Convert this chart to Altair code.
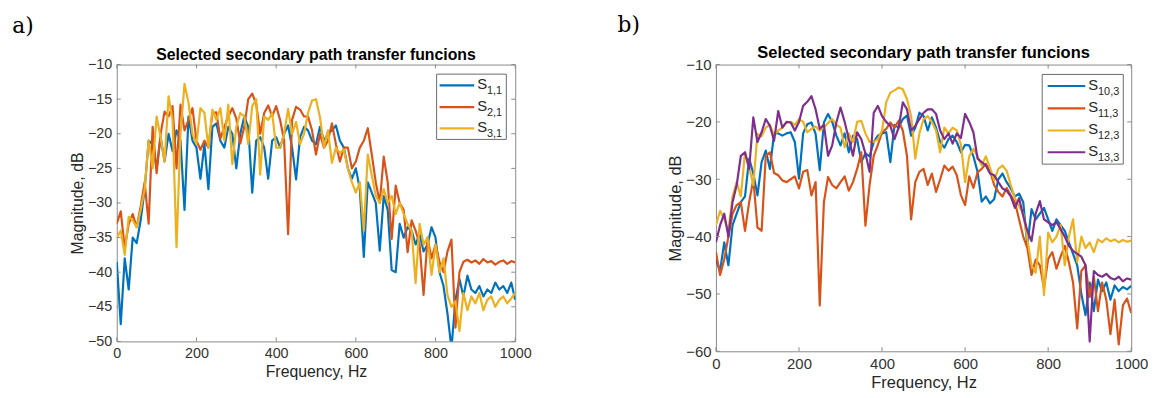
import altair as alt
import pandas as pd

freq = list(range(0, 1001, 10))

# ---- panel a) ----
a_names = ["1,1", "2,1", "3,1"]
a_s11 = [-38.5, -47.5, -38, -42.5, -35, -35.8, -32.5, -28, -21, -21.5,
         -25, -20.5, -24, -20, -22.5, -19.5, -21, -31, -17.5, -21,
         -22, -26.5, -21.5, -28, -19, -18.5, -21, -22, -19, -20,
         -25, -20, -17.5, -19, -28.5, -21, -20.5, -22, -26.5, -21,
         -20.5, -22, -20, -18.8, -22, -26.6, -20.5, -19, -19.5, -21,
         -21.5, -19, -21, -20, -19.5, -18.8, -21, -22, -25, -26.5,
         -25, -28, -37.8, -27, -28.5, -30, -36.9, -29, -31, -39.7,
         -40, -33, -35, -33.5, -34, -36, -34.5, -37, -36, -33.5,
         -35, -40, -42, -46, -51, -44, -41, -43.5, -40.5, -42.5,
         -43, -42, -43.5, -42.5, -43, -41.5, -42.5, -42, -43, -41.5,
         -44]
a_s21 = [-33, -31.2, -36.5, -33, -31.6, -33.5, -30.5, -27, -33, -19,
         -25.7, -20, -16.8, -17.5, -16, -25, -15.8, -19.5, -18, -16.3,
         -21, -22.3, -21, -22, -17, -16.9, -20.7, -19, -17.5, -16.3,
         -17.8, -21.4, -19, -15, -14.2, -15.7, -20, -17, -15.9, -17.5,
         -16, -18, -21, -34.5, -18, -16.1, -16.5, -17.5, -17.5, -19.5,
         -23, -20, -22, -21, -18.5, -21.5, -24, -22, -22, -25,
         -24, -22, -21, -19.2, -23, -27, -30, -23.3, -27, -35.2,
         -27.5, -30, -31, -37.1, -32.5, -34, -36, -43.3, -35, -38,
         -36, -38.5, -40, -37, -35.3, -48, -40, -38.5, -38.2, -38.6,
         -38.3, -38.8, -38.1, -38.6, -38.4, -38.9, -38.5, -38.3, -38.8, -38.4,
         -38.6]
a_s31 = [-35, -34, -37.5, -32, -32.5, -33.5, -31, -28, -21, -25,
         -17.5, -20.5, -24, -14.6, -18, -36.4, -20, -12.8, -15.5, -20,
         -21.5, -16.3, -17, -22, -16.5, -18, -16.3, -21, -15.8, -24.4,
         -19, -17, -17.5, -21.5, -16, -15, -25.9, -17.5, -18, -17,
         -22, -22, -20, -16.4, -20, -18.3, -21.5, -20, -17, -15.2,
         -15, -17.6, -21.9, -19.5, -24.2, -22, -22.8, -22.3, -25, -27,
         -28.5, -27, -34, -23, -26, -29, -30, -28, -30, -29,
         -31.6, -30, -31.6, -33, -34, -41.6, -33, -36, -35, -40.4,
         -36, -40, -38, -43.3, -45, -44.2, -48.5, -43, -45.5, -43.5,
         -44.5, -43, -45.5, -44, -43.5, -45, -44, -43.5, -44.5, -43.8,
         -43]

# ---- panel b) ----
b_names = ["10,3", "11,3", "12,3", "13,3"]
b_s103 = [-44, -46, -41, -45, -38, -36, -34, -33, -26.4, -29,
          -32.8, -27, -25, -28.2, -22, -22, -22.4, -22, -21.8, -23.5,
          -29.9, -22, -20.4, -20.1, -22.1, -28.4, -20.1, -18.6, -20, -22.4,
          -24.1, -22, -25.3, -22.4, -23, -27, -25.5, -26, -23.5, -22.4,
          -22, -21.8, -27, -20.5, -21, -19.5, -18.9, -22.4, -21, -18.4,
          -19, -21.5, -19.2, -21, -23.5, -24.5, -23, -22.4, -23.5, -25.3,
          -24, -24.1, -26, -28.7, -33.9, -33, -34.2, -33.5, -30, -29,
          -30.5, -31.6, -33, -32.5, -34, -41.6, -35.2, -37, -36, -35,
          -37, -39, -37, -38, -39, -41, -43, -45, -50, -53.7,
          -48, -53, -47.5, -49.5, -48, -51, -48.5, -49.5, -48.8, -49.2,
          -48.6]
b_s113 = [-42.7, -46.7, -44, -40, -36, -34.5, -34, -39, -34, -30,
          -38.4, -39, -25.9, -25.3, -28.9, -29.3, -30.2, -30.5, -30, -29.5,
          -31.6, -28.7, -28.4, -32.8, -30.5, -52, -34, -29.6, -31, -31.6,
          -30.5, -29.5, -32, -30.5, -28.2, -25.3, -38.1, -31, -25.9, -24,
          -21.8, -21.2, -20.1, -21, -19.8, -21.5, -25.9, -37, -30.5, -28.7,
          -28.2, -31, -29, -32.2, -30, -27.6, -28.5, -27.8, -29.3, -32.8,
          -34.5, -29.5, -31.5, -28.8, -28.2, -27.3, -28.5, -31, -32.2, -33,
          -31.5, -32.8, -34, -37, -40, -42, -46.7, -44, -45, -49,
          -43.9, -42.7, -45.6, -43.5, -41.6, -44.5, -48, -56, -46, -45,
          -50.5, -47, -53, -48, -51, -57, -51, -58.8, -52, -50.8,
          -53.3]
b_s123 = [-38, -35.5, -37, -39, -33, -30.5, -33, -25.3, -28, -31,
          -22.1, -22.5, -21, -20.5, -22.4, -21.5, -21, -20.1, -20, -20.5,
          -19.5, -20, -21.8, -21.2, -20.8, -21.5, -21, -20.2, -19.5, -20.5,
          -21, -24.4, -22, -23.5, -20, -19.8, -22, -23.5, -23.5, -23,
          -21.5, -16.6, -14.9, -14.5, -14, -14.3, -16, -19, -26.4, -22,
          -19.5, -19, -20, -21.5, -25.3, -21, -22, -21, -21.5, -24,
          -30.5, -26, -24.7, -26, -27.6, -26, -28, -30.2, -28.2, -27.6,
          -28.5, -31, -33.3, -34.7, -36, -40.4, -45, -46.3, -40, -50.2,
          -39.3, -41, -40, -38, -45, -40, -37, -44.4, -40, -42,
          -41, -42.7, -40.5, -41, -40.3, -40.8, -40.5, -41, -40.6, -40.9,
          -40.7]
b_s133 = [-41, -38, -36, -40, -34, -31, -25.9, -25.3, -28.2, -19.2,
          -23.5, -21.8, -19.5, -20.7, -23.3, -18.1, -21, -20, -20.1, -21.5,
          -20, -17.2, -16.5, -15.5, -17.8, -21.2, -20.5, -25.9, -24.1, -20.1,
          -17.5, -20, -23, -25.9, -21.8, -23, -25.5, -28.7, -18.4, -17.2,
          -19, -20, -20.7, -23, -21, -16.6, -17.8, -21.5, -20.7, -19.5,
          -18.4, -17.8, -17.8, -18.6, -21.5, -23, -22, -23.8, -22, -22.8,
          -18.6, -20, -21.8, -26.4, -27, -27.6, -29, -29.3, -30.5, -31.6,
          -32, -33, -35, -33.3, -36.4, -39, -40.8, -36, -33.8, -37,
          -37.5, -38, -37.5, -38.7, -40, -41.6, -42.5, -43, -43.5, -45,
          -58.3, -46, -46.7, -47, -46.5, -47.2, -47.5, -47, -47.8, -47.3,
          -47.5]

for s in (a_s11, a_s21, a_s31, b_s103, b_s113, b_s123, b_s133):
    assert len(s) == len(freq), len(s)

x_ticks = [0, 200, 400, 600, 800, 1000]
a_yticks = [-50, -45, -40, -35, -30, -25, -20, -15, -10]
b_yticks = [-60, -50, -40, -30, -20, -10]

title_text = "Selected secondary path transfer funcions"
colors = ["#0072BD", "#D95319", "#EDB120", "#7E2F8E"]
AX = "#8a8a8a"
TXT = "#262626"
FONT = "Liberation Sans"


def panel(names, series, ydom, yticks, w, h, letter, letter_x, letter_y,
          title_y, leg, k):
    xscale = alt.Scale(domain=[0, 1000], nice=False, zero=False)
    yscale = alt.Scale(domain=ydom, nice=False, zero=False)
    xaxis = alt.Axis(values=x_ticks, title="Frequency, Hz", ticks=False,
                     grid=False, domain=False, labelPadding=5, titlePadding=4,
                     format="d", labelFlush=False,
                     labelFontSize=14.5 * k, titleFontSize=16 * k)
    yaxis = alt.Axis(values=yticks, title="Magnitude, dB", ticks=False,
                     grid=False, domain=False, labelPadding=5, titlePadding=2,
                     format="d", labelFontSize=14.5 * k, titleFontSize=16 * k)
    layers = []
    for vals, col in zip(series, colors):
        df = pd.DataFrame({"f": freq, "v": vals})
        layers.append(
            alt.Chart(df).mark_line(color=col, strokeWidth=2.2, clip=True,
                                    strokeJoin="round").encode(
                x=alt.X("f:Q", scale=xscale, axis=xaxis),
                y=alt.Y("v:Q", scale=yscale, axis=yaxis),
                order="f:Q"))
    xt = pd.DataFrame({"f": x_ticks})
    yt = pd.DataFrame({"v": yticks})
    for y0, y1 in ((h, h - 4), (0, 4)):
        layers.append(alt.Chart(xt).mark_rule(color=AX, strokeWidth=1).encode(
            x=alt.X("f:Q", scale=xscale, axis=xaxis),
            y=alt.value(y0), y2=alt.value(y1)))
    for x0, x1 in ((0, 4), (w, w - 4)):
        layers.append(alt.Chart(yt).mark_rule(color=AX, strokeWidth=1).encode(
            y=alt.Y("v:Q", scale=yscale, axis=yaxis),
            x=alt.value(x0), x2=alt.value(x1)))
    one = pd.DataFrame({"k": [0]})
    # title + panel letter
    layers.append(alt.Chart(one).mark_text(
        font=FONT, fontSize=16 * k, fontWeight="bold", color="#000000",
        align="center", baseline="middle").encode(
        x=alt.value(w / 2), y=alt.value(title_y), text=alt.value(title_text)))
    layers.append(alt.Chart(one).mark_text(
        font="DejaVu Serif", fontSize=22, color="#000000",
        align="left", baseline="alphabetic").encode(
        x=alt.value(letter_x), y=alt.value(letter_y), text=alt.value(letter)))
    # legend box
    bx0, bx1, by0, by1, lx0, lx1, ys = leg
    layers.append(alt.Chart(one).mark_rect(
        fill="white", stroke="#6a6a6a", strokeWidth=1).encode(
        x=alt.value(bx0), x2=alt.value(bx1), y=alt.value(by0), y2=alt.value(by1)))
    for name, col, yy in zip(names, colors, ys):
        layers.append(alt.Chart(one).mark_rule(color=col, strokeWidth=2.2).encode(
            x=alt.value(lx0), x2=alt.value(lx1), y=alt.value(yy)))
        layers.append(alt.Chart(one).mark_text(
            font=FONT, fontSize=15, color=TXT, align="left",
            baseline="middle").encode(
            x=alt.value(lx1 + 3), y=alt.value(yy - 1), text=alt.value("S")))
        layers.append(alt.Chart(one).mark_text(
            font=FONT, fontSize=11, color=TXT, align="left",
            baseline="middle").encode(
            x=alt.value(lx1 + 13), y=alt.value(yy + 6), text=alt.value(name)))
    return alt.layer(*layers).properties(width=w, height=h)


pa = panel(a_names, [a_s11, a_s21, a_s31], [-50, -10], a_yticks, 403, 280,
           "a)", -105.7, -32, -10,
           (323.5, 394, 9.7, 75.7, 326.5, 361.5, [21, 43, 64.5]), 1.0)
pb = panel(b_names, [b_s103, b_s113, b_s123, b_s133], [-60, -10], b_yticks,
           420, 290, "b)", -99.5, -33.3, -11.3,
           (330, 412, 10, 100.7, 335.5, 373.5, [21.7, 44.4, 66.7, 88.7]), 1.04)

chart = alt.hconcat(pa, pb, spacing=86).properties(
    padding={"left": 3, "top": 3, "right": 0, "bottom": 0}
).configure_view(stroke=AX, strokeWidth=1).configure_axis(
    labelFont=FONT, titleFont=FONT,
    labelColor="#333333", titleColor=TXT, titleFontWeight="normal")

chart.save("out.html", embed_options={"renderer": "svg", "actions": False})
